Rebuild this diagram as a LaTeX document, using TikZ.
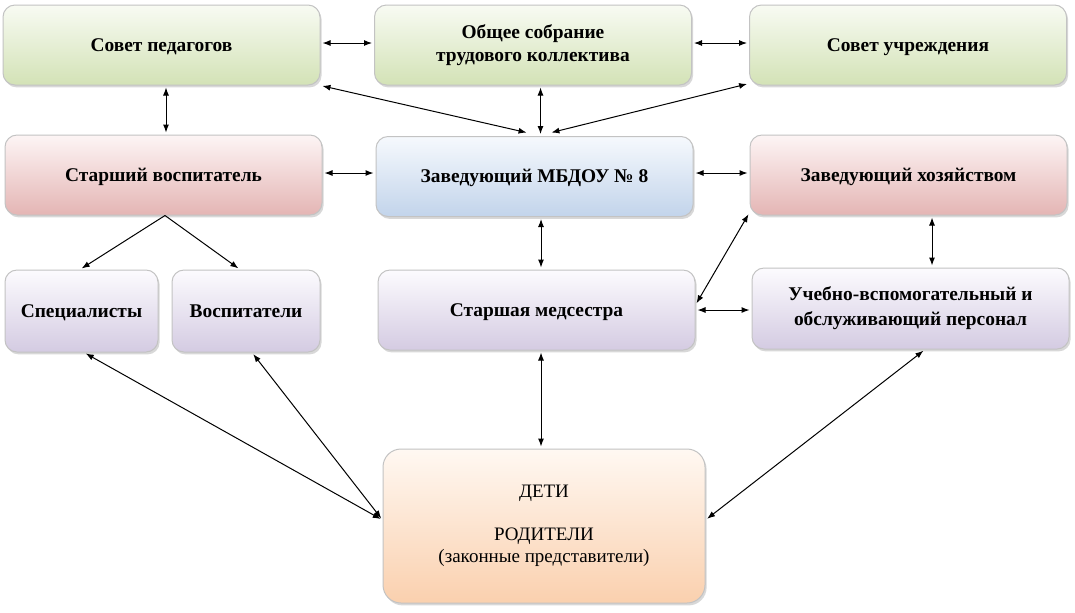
\documentclass[tikz,border=0pt]{standalone}
\usepackage{fontspec}
\setmainfont{Liberation Serif}
\usetikzlibrary{arrows.meta,calc,shadows}
\definecolor{grT}{HTML}{F8FBF3}\definecolor{grB}{HTML}{D3E2B6}
\definecolor{pkT}{HTML}{FDF5F5}\definecolor{pkB}{HTML}{E4B5B4}
\definecolor{blT}{HTML}{F6F9FD}\definecolor{blB}{HTML}{C2D4EB}
\definecolor{lvT}{HTML}{FCFBFE}\definecolor{lvB}{HTML}{D4CBE2}
\definecolor{orT}{HTML}{FFF8F2}\definecolor{orB}{HTML}{FAD0AE}
\definecolor{bordc}{HTML}{C3C3C3}
\begin{document}
\begin{tikzpicture}[x=0.5pt,y=-0.5pt,
  box/.style={draw=bordc, line width=0.5pt, rounded corners=6pt, align=center,
    minimum width=158.5pt, minimum height=40pt, inner sep=2pt,
    font=\fontsize{9.7pt}{11.8pt}\selectfont\bfseries,
    drop shadow={shadow xshift=0.8pt, shadow yshift=-1.2pt, fill=black!30, opacity=0.5}},
  oneline/.style={text height=6.4pt, text depth=0pt},
  green/.style={box, top color=grT, bottom color=grB},
  pink/.style={box, top color=pkT, bottom color=pkB},
  blue/.style={box, top color=blT, bottom color=blB},
  lav/.style={box, top color=lvT, bottom color=lvB},
  peach/.style={box, top color=orT, bottom color=orB, font=\fontsize{9.5pt}{11pt}\selectfont},
  link/.style={line width=0.5pt, {Latex[length=4pt,width=3pt]}-{Latex[length=4pt,width=3pt]}, shorten <=1pt, shorten >=1pt},
  onelink/.style={line width=0.5pt, -{Latex[length=4pt,width=3pt]}, shorten >=1pt}
]
\useasboundingbox (0,0) rectangle (1075,612);
\fill[white] (0,0) rectangle (1075,612);

\node[green, oneline] (sp) at (161.5,45) {Совет педагогов};
\node[green] (os) at (533,45) {Общее собрание\\трудового коллектива};
\node[green, oneline] (su) at (908,45) {Совет учреждения};
\node[pink, oneline] (sv) at (163.5,175) {Старший воспитатель};
\node[blue, oneline] (zav) at (534.5,176.5) {Заведующий МБДОУ № 8};
\node[pink, oneline] (zh) at (908.5,175) {Заведующий хозяйством};
\node[lav, oneline, minimum width=76.5pt, minimum height=41pt] (spec) at (81.5,311) {Специалисты};
\node[lav, oneline, minimum width=74pt, minimum height=41pt] (vosp) at (246,311) {Воспитатели};
\node[lav, oneline] (med) at (536.5,310) {Старшая медсестра};
\node[lav, minimum height=40.5pt, font=\fontsize{9.7pt}{12.5pt}\selectfont\bfseries] (uch) at (910.5,308.5) {Учебно-вспомогательный и\\обслуживающий персонал};
\node[peach, minimum width=161pt, minimum height=77pt, rounded corners=9pt] (deti) at (544,526) {ДЕТИ\\[10.5pt]РОДИТЕЛИ\\(законные представители)};

% top row
\draw[link] ($(sp.east)+(0,-2)$) -- ($(os.west)+(0,-2)$);
\draw[link] ($(os.east)+(0,-2)$) -- ($(su.west)+(0,-2)$);
\draw[link] (sp.south east) -- ($(zav.north)+(-6,-3)$);
\draw[link] ($(os.south)+(7.5,0)$) -- ($(zav.north)+(6,0)$);
\draw[link] ($(su.south west)+(0,-2)$) -- ($(zav.north)+(15,-3)$);
\draw[link] ($(sp.south)+(4.5,0)$) -- ($(sv.north)+(2.5,0)$);
% second row
\draw[link] ($(sv.east)+(0,-2)$) -- ($(zav.west)+(0,-3.5)$);
\draw[link] ($(zav.east)+(0,-3.5)$) -- ($(zh.west)+(0,-2)$);
\draw[onelink] ($(sv.south)+(1.5,0)$) -- ($(spec.north)+(-1.5,0)$);
\draw[onelink] ($(sv.south)+(1.5,0)$) -- ($(vosp.north)+(-6,0)$);
\draw[link] ($(zav.south)+(6.5,0)$) -- ($(med.north)+(4.5,0)$);
\draw[link] ($(zh.south)+(23.5,0)$) -- ($(uch.north)+(21.5,0)$);
\draw[link] ($(zh.south west)+(0,-3)$) -- ($(med.east)+(0,-5)$);
\draw[link] (med.east) -- ($(uch.west)+(0,1.5)$);
% bottom
\draw[link] ($(med.south)+(4.5,0)$) -- ($(deti.north)+(-3,0)$);
\draw[link] ($(spec.south)+(2.5,0)$) -- ($(deti.west)+(0,-6)$);
\draw[link] ($(vosp.south)+(6,0)$) -- ($(deti.west)+(0,-6)$);
\draw[link] ($(uch.south)+(14.5,0)$) -- ($(deti.east)+(0,-6)$);
\end{tikzpicture}
\end{document}
